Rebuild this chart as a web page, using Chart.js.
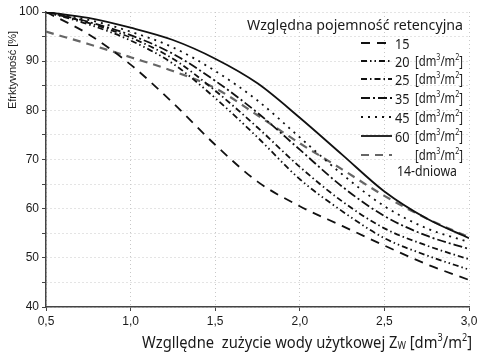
<!DOCTYPE html>
<html>
<head>
<meta charset="utf-8">
<script src="https://cdn.jsdelivr.net/npm/chart.js@4"></script>
<style>
  html, body { margin: 0; padding: 0; background: #fff; }
  #wrap { width: 500px; height: 354px; }
</style>
</head>
<body>
<div id="wrap"><canvas id="chart" width="500" height="354"></canvas></div>
<script>
// --- Données ---
const xValues = [0.5, 0.75, 1.0, 1.25, 1.5, 1.75, 2.0, 2.25, 2.5, 2.75, 3.0];

const eff15 = [100, 95.5, 89.3, 81.5, 73.0, 65.5, 60.5, 56.5, 52.5, 48.7, 45.5];
const eff20 = [100, 97.5, 94.2, 89.5, 82.5, 74.5, 66.0, 59.5, 54.0, 50.5, 47.6];
const eff25 = [100, 97.8, 94.8, 90.5, 84.0, 76.5, 68.5, 61.5, 56.0, 52.5, 49.7];
const eff35 = [100, 98.0, 95.3, 91.5, 86.0, 79.5, 72.0, 64.5, 58.5, 54.5, 51.8];
const eff45 = [100, 98.4, 96.0, 92.8, 88.0, 82.0, 74.5, 67.0, 60.5, 56.0, 53.2];
const eff60 = [100, 98.8, 96.8, 94.3, 90.5, 85.5, 78.5, 71.0, 63.5, 58.0, 54.0];
const eff14d = [96, 93.5, 90.8, 88.0, 84.5, 79.0, 73.3, 68.0, 62.6, 58.0, 54.2];

const seriesLabels = ['15', '20', '25', '35', '45', '60', '14-dniowa'];
const xTickLabels = ['0,5', '1,0', '1,5', '2,0', '2,5', '3,0'];
const yTickLabels = ['40', '50', '60', '70', '80', '90', '100'];

const legendTitle = 'Względna pojemność retencyjna';
const yTitle = 'Efrktywność [%]';
const xTitleMain = 'Wzgllędne  zużycie wody użytkowej Z';

// --- Styles des séries ---
const dashes = [[9, 7], [6, 3, 1.5, 3, 1.5, 3], [6, 3, 1.5, 3], [9, 3, 2, 3], [2, 5], [], [8, 6]];
const colors = ['#111', '#111', '#111', '#111', '#111', '#111', '#666'];
const allData = [eff15, eff20, eff25, eff35, eff45, eff60, eff14d];

const datasets = allData.map((d, i) => ({
    label: seriesLabels[i],
    data: d.map((v, j) => ({ x: xValues[j], y: v })),
    borderColor: colors[i],
    borderWidth: i === 6 ? 2.2 : 1.8,
    borderDash: dashes[i],
    pointRadius: 0,
    fill: false,
    cubicInterpolationMode: 'monotone'
}));

const FAM = '"Noto Sans", sans-serif';

// écrit une suite de morceaux [texte, taille relative, décalage vertical], compressés en largeur par sx
function drawRuns(ctx, runs, x, y, size, sx, doDraw) {
    let cx = 0;
    ctx.save();
    ctx.translate(x, y);
    ctx.scale(sx, 1);
    runs.forEach(r => {
        ctx.font = (size * r[1]).toFixed(2) + 'px ' + FAM;
        if (doDraw) ctx.fillText(r[0], cx, r[2] * size);
        cx += ctx.measureText(r[0]).width;
    });
    ctx.restore();
    return cx * sx;
}

// facteur de compression pour tenir dans la largeur voulue
function fitScale(ctx, runs, size, width) {
    return width / drawRuns(ctx, runs, 0, 0, size, 1, false);
}

const unitRuns = [['[dm', 1, 0], ['3', 0.62, -0.45], ['/m', 1, 0], ['2', 0.62, -0.45], [']', 1, 0]];
const xTitleRuns = [[xTitleMain, 1, 0], ['W', 0.62, 0.08], [' [dm', 1, 0], ['3', 0.62, -0.42], ['/m', 1, 0], ['2', 0.62, -0.42], [']', 1, 0]];

// --- Textes dessinés (titres, légende) ---
const textPlugin = {
    id: 'textPlugin',
    afterDraw(chart) {
        const ctx = chart.ctx;
        ctx.save();
        ctx.fillStyle = '#1a1a1a';

        // titre axe Y
        ctx.save();
        ctx.textBaseline = 'middle';
        ctx.translate(13, 70);
        ctx.rotate(-Math.PI / 2);
        ctx.font = '11px "Liberation Sans", Arial, sans-serif';
        ctx.textAlign = 'center';
        ctx.fillText(yTitle, 0, 0);
        ctx.restore();

        // titre axe X avec indice et exposants
        ctx.textAlign = 'left';
        ctx.textBaseline = 'alphabetic';
        drawRuns(ctx, xTitleRuns, 142, 348, 16, fitScale(ctx, xTitleRuns, 16, 330), true);

        // légende
        const tr = [[legendTitle, 1, 0]];
        drawRuns(ctx, tr, 247, 30, 15, fitScale(ctx, tr, 15, 216), true);

        const usx = fitScale(ctx, unitRuns, 14, 48);
        const rowY = [43, 61, 79, 98, 117, 136, 155];
        rowY.forEach((ry, i) => {
            ctx.save();
            ctx.strokeStyle = colors[i];
            ctx.lineWidth = i === 6 ? 2.2 : 1.8;
            ctx.setLineDash(dashes[i]);
            ctx.beginPath();
            ctx.moveTo(361, ry);
            ctx.lineTo(392, ry);
            ctx.stroke();
            ctx.restore();

            if (i < 6) drawRuns(ctx, [[seriesLabels[i], 1, 0]], 395, ry + 6, 15, 0.85, true);
            if (i > 0) drawRuns(ctx, unitRuns, 415, ry + 5, 14, usx, true);
        });
        const dr = [[seriesLabels[6], 1, 0]];
        drawRuns(ctx, dr, 397, 176, 14, fitScale(ctx, dr, 14, 60), true);
        ctx.restore();
    }
};

const tickFont = { family: '"Liberation Sans", Arial, sans-serif', size: 12 };

new Chart(document.getElementById('chart'), {
    type: 'line',
    data: { datasets: datasets },
    options: {
        responsive: false,
        animation: false,
        layout: { padding: { left: 0, right: 31, top: 12, bottom: 0 } },
        plugins: { legend: { display: false }, tooltip: { enabled: false } },
        scales: {
            x: {
                type: 'linear',
                min: 0.5,
                max: 3.0,
                afterFit: s => { s.height = 47; },
                afterBuildTicks: s => { s.ticks = xTickLabels.map(t => ({ value: parseFloat(t.replace(',', '.')) })); },
                ticks: {
                    color: '#1a1a1a',
                    font: tickFont,
                    padding: 3,
                    maxRotation: 0,
                    callback: (v, i) => xTickLabels[i]
                },
                grid: {
                    color: '#c8c8c8',
                    tickColor: '#444',
                    tickLength: 4,
                    lineWidth: 1,
                    tickBorderDash: [0, 0]
                },
                border: { color: '#444', width: 1.5, dash: [1, 3] }
            },
            y: {
                min: 40,
                max: 100,
                afterFit: s => { s.width = 46; },
                ticks: {
                    stepSize: 5,
                    color: '#1a1a1a',
                    font: tickFont,
                    padding: 3,
                    callback: v => (v % 10 === 0 ? yTickLabels[(v - 40) / 10] : '')
                },
                grid: {
                    color: '#c8c8c8',
                    tickColor: '#444',
                    tickLength: 4,
                    lineWidth: 1,
                    tickBorderDash: [0, 0]
                },
                border: { color: '#444', width: 1.5, dash: [1, 3] }
            }
        }
    },
    plugins: [textPlugin]
});
</script>
</body>
</html>
